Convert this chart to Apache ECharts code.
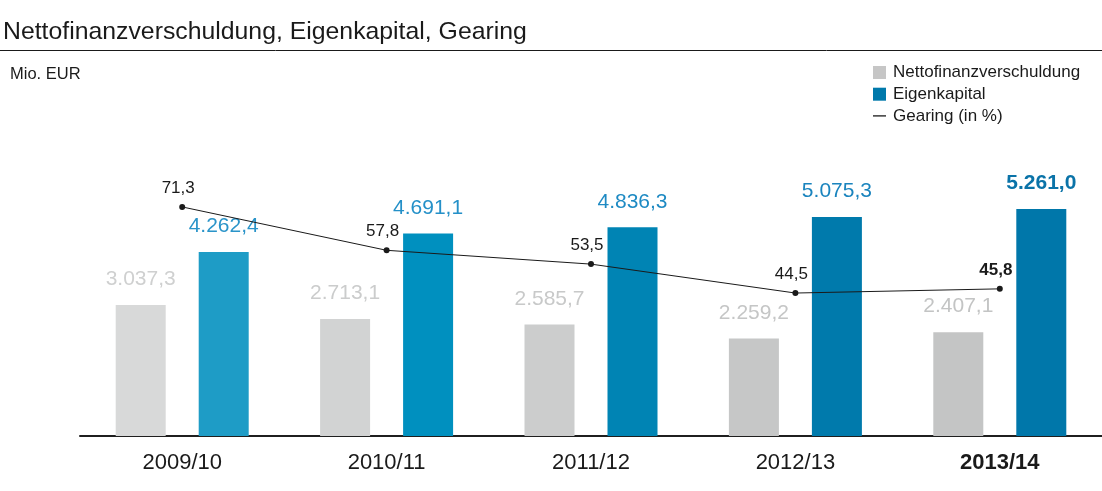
<!DOCTYPE html>
<html><head><meta charset="utf-8">
<script src="https://cdn.jsdelivr.net/npm/echarts@6/dist/echarts.min.js"></script>
<style>html,body{margin:0;padding:0;background:#fff}#c{width:1102px;height:491px}</style>
</head><body><div id="c"></div>
<script>
// ---- data ----
const categories = ['2009/10', '2010/11', '2011/12', '2012/13', '2013/14'];
const nettofinanzverschuldung = [3037.3, 2713.1, 2585.7, 2259.2, 2407.1];
const eigenkapital = [4262.4, 4691.1, 4836.3, 5075.3, 5261.0];
const gearing = [71.3, 57.8, 53.5, 44.5, 45.8];
const seriesNames = ['Nettofinanzverschuldung', 'Eigenkapital', 'Gearing (in %)'];
const titleText = 'Nettofinanzverschuldung, Eigenkapital, Gearing';
const unitText = 'Mio. EUR';

// ---- styles ----
const FONT = "'Liberation Sans', Arial, Helvetica, sans-serif";
const greyColors = ['#d8d9d9', '#d2d3d3', '#cccdcd', '#c6c7c7', '#c4c5c5'];
const blueColors = ['#1e9cc6', '#0090bf', '#0084b4', '#007aac', '#0077aa'];
const greyLabelColors = ['#cfd0d0', '#cbcccc', '#c8c9c9', '#c5c6c6', '#c3c4c4'];
const blueLabelColors = ['#2a94c9', '#2490c8', '#1e8ac3', '#1a84be', '#0a73a8'];
const lastIdx = categories.length - 1;

function fmt(v, digits) {
  const s = v.toFixed(digits);
  const parts = s.split('.');
  return parts[0].replace(/\B(?=(\d{3})+(?!\d))/g, '.') + ',' + parts[1];
}

const barData = (vals, colors, labelColors, boldLast) => vals.map((v, i) => ({
  value: v,
  itemStyle: { color: colors[i] },
  label: { color: labelColors[i], fontWeight: (boldLast && i === lastIdx) ? 'bold' : 'normal' }
}));

const chart = echarts.init(document.getElementById('c'), null, { renderer: 'canvas' });
chart.setOption({
  animation: false,
  backgroundColor: '#fff',
  textStyle: { fontFamily: FONT },
  title: [
    { text: titleText, left: -2, top: 15,
      textStyle: { fontFamily: FONT, fontSize: 24.8, fontWeight: 'normal', color: '#1a1a1a' } },
    { text: unitText, left: 5, top: 61,
      textStyle: { fontFamily: FONT, fontSize: 16.5, fontWeight: 'normal', color: '#1a1a1a' } }
  ],
  graphic: [
    { type: 'line', shape: { x1: 0, y1: 50.5, x2: 1102, y2: 50.5 },
      style: { stroke: '#1a1a1a', lineWidth: 1 }, silent: true }
  ],
  legend: {
    orient: 'vertical', left: 868, top: 59,
    itemWidth: 13, itemHeight: 13, itemGap: 4.7,
    textStyle: { fontFamily: FONT, fontSize: 17, color: '#1a1a1a', padding: [0, 0, 0, 2] },
    data: [
      { name: seriesNames[0], icon: 'rect' },
      { name: seriesNames[1], icon: 'rect' },
      { name: seriesNames[2], icon: 'path://M0,0 L13,0 L13,1.3 L0,1.3 Z' }
    ],
    selectedMode: false
  },
  grid: { left: 80, right: 0, top: 134, bottom: 55, containLabel: false },
  xAxis: {
    type: 'category', data: categories,
    axisLine: { lineStyle: { color: '#1f1f1f', width: 2 } },
    axisTick: { show: false },
    axisLabel: {
      margin: 16, fontSize: 22, color: '#1a1a1a', fontFamily: FONT,
      formatter: (v, i) => i === lastIdx ? '{b|' + v + '}' : v,
      rich: { b: { fontWeight: 'bold', fontSize: 22, color: '#1a1a1a', fontFamily: FONT } }
    }
  },
  yAxis: [
    { type: 'value', min: 0, max: 7000, show: false, splitLine: { show: false } },
    { type: 'value', min: 0, max: 94, show: false, splitLine: { show: false } }
  ],
  series: [
    {
      name: seriesNames[0], type: 'bar', barWidth: 50, barGap: '66%',
      itemStyle: { color: '#c6c6c6' },
      label: { show: true, position: 'top', distance: 15, fontSize: 21, fontFamily: FONT,
        formatter: p => fmt(p.value, 1) },
      data: barData(nettofinanzverschuldung, greyColors, greyLabelColors, false)
    },
    {
      name: seriesNames[1], type: 'bar', barWidth: 50, barGap: '66%',
      itemStyle: { color: '#0079ab' },
      label: { show: true, position: 'top', distance: 15, fontSize: 21, fontFamily: FONT,
        formatter: p => fmt(p.value, 1) },
      data: barData(eigenkapital, blueColors, blueLabelColors, true)
    },
    {
      name: seriesNames[2], type: 'line', yAxisIndex: 1, z: 5,
      symbol: 'circle', symbolSize: 6,
      itemStyle: { color: '#1a1a1a' },
      lineStyle: { color: '#1a1a1a', width: 1 },
      label: { show: true, position: 'top', distance: 7, offset: [-4, 0], fontSize: 17,
        color: '#1a1a1a', fontFamily: FONT,
        formatter: p => fmt(p.value, 1) },
      data: gearing.map((v, i) => ({ value: v, label: { fontWeight: i === lastIdx ? 'bold' : 'normal' } }))
    }
  ]
});
</script></body></html>
